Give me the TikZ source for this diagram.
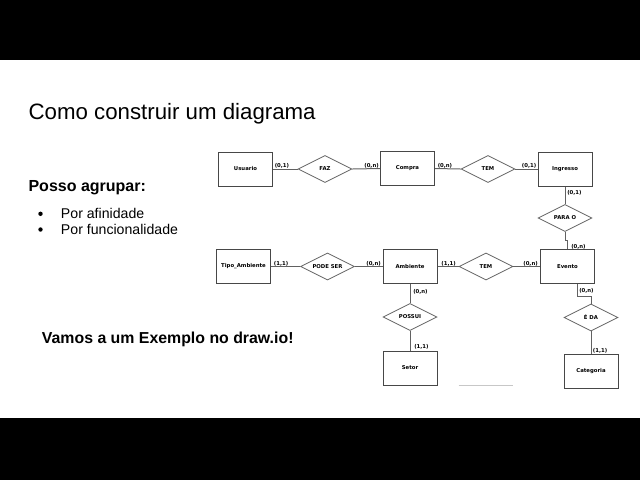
\documentclass[tikz,border=0pt]{standalone}
\usepackage{fontspec}
\setmainfont{Liberation Sans}
\newfontfamily\erfont{DejaVu Sans}
\usetikzlibrary{shapes.geometric}
\begin{document}
\begin{tikzpicture}[x=0.75pt,y=-0.75pt,
  erfnt/.style={font=\erfont\bfseries\fontsize{4}{5}\selectfont},
  ent/.style={draw=black!72, line width=0.75pt, minimum width=40.5pt, minimum height=25.5pt, inner sep=0pt, erfnt},
  rel/.style={draw=black!62, line width=0.6pt, diamond, aspect=2, minimum width=40.5pt, minimum height=20.25pt, inner sep=0pt, erfnt},
  lbl/.style={inner sep=0pt, erfnt},
  conn/.style={draw=black!62, line width=0.75pt},
  slide/.style={inner sep=0pt, anchor=base west}]
\useasboundingbox (0,0) rectangle (640,480);
\fill[white] (0,0) rectangle (640,480);
\fill[black] (0,0) rectangle (640,60);
\fill[black] (0,418) rectangle (640,480);

% slide text
\node[slide, font=\fontsize{16.7}{20}\selectfont] (title) at (28.3,119.3) {Como construir um diagrama};
\node[slide, font=\bfseries\fontsize{12}{14}\selectfont] (grp) at (28.3,191) {Posso agrupar:};
\node[slide, font=\fontsize{10.6}{13}\selectfont] (b1) at (60.7,218.3) {Por afinidade};
\node[slide, font=\fontsize{10.6}{13}\selectfont] (b2) at (60.7,234) {Por funcionalidade};
\fill (40.5,213.8) circle (2.2);
\fill (40.5,229.5) circle (2.2);
\node[slide, font=\bfseries\fontsize{11.9}{14}\selectfont] (ex) at (41.7,343.3) {Vamos a um Exemplo no draw.io!};

% entities
\node[ent] (usu) at (245.5,169) {Usuario};
\node[ent] (com) at (407.5,168.5) {Compra};
\node[ent] (ing) at (565,169) {Ingresso};
\node[ent] (tip) at (243.5,266.5) {Tipo\_Ambiente};
\node[ent] (amb) at (410,266.5) {Ambiente};
\node[ent] (eve) at (567.5,266.5) {Evento};
\node[ent] (set) at (410,368) {Setor};
\node[ent] (cat) at (591,371) {Categoria};

% relationships
\node[rel] (faz) at (325,169) {FAZ};
\node[rel] (tem1) at (488,169) {TEM};
\node[rel] (para) at (565,218) {PARA O};
\node[rel] (pode) at (327.5,266.5) {PODE SER};
\node[rel] (tem2) at (486,266.5) {TEM};
\node[rel] (pos) at (410,317) {POSSUI};
\node[rel] (eda) at (591,317.5) {É DA};

% connectors
\draw[conn] (usu.east) -- (faz.west);
\draw[conn] (faz.east) -- (com.west);
\draw[conn] (com.east) -- (tem1.west);
\draw[conn] (tem1.east) -- (ing.west);
\draw[conn] (ing.south) -- (para.north);
\draw[conn] (para.south) -- ++(0,9) -| (eve.north);
\draw[conn] (tip.east) -- (pode.west);
\draw[conn] (pode.east) -- (amb.west);
\draw[conn] (amb.east) -- (tem2.west);
\draw[conn] (tem2.east) -- (eve.west);
\draw[conn] (amb.south) -- (pos.north);
\draw[conn] (pos.south) -- (set.north);
\coordinate (evs) at ([shift={(10,0)}]eve.south);
\draw[conn] (evs) -- ++(0,12) -| (eda.north);
\draw[conn] (eda.south) -- (cat.north);

% cardinality labels
\node[lbl, anchor=west] at ([shift={(1.5,-3)}]usu.east) {(0,1)};
\node[lbl, anchor=east] at ([shift={(-1,-3)}]com.west) {(0,n)};
\node[lbl, anchor=west] at ([shift={(2.5,-3)}]com.east) {(0,n)};
\node[lbl, anchor=east] at ([shift={(-1,-3)}]ing.west) {(0,1)};
\node[lbl, anchor=west] at ([shift={(2,6.7)}]ing.south) {(0,1)};
\node[lbl, anchor=west] at ([shift={(3.5,-2.5)}]eve.north) {(0,n)};
\node[lbl, anchor=west] at ([shift={(2.7,-2.5)}]tip.east) {(1,1)};
\node[lbl, anchor=east] at ([shift={(-1.5,-2.5)}]amb.west) {(0,n)};
\node[lbl, anchor=west] at ([shift={(3.7,-2.5)}]amb.east) {(1,1)};
\node[lbl, anchor=east] at ([shift={(-2,-2.5)}]eve.west) {(0,n)};
\node[lbl, anchor=west] at ([shift={(3,7.5)}]amb.south) {(0,n)};
\node[lbl, anchor=west] at ([shift={(4,-3.5)}]set.north) {(1,1)};
\node[lbl, anchor=west] at ([shift={(11.5,7)}]eve.south) {(0,n)};
\node[lbl, anchor=west] at ([shift={(1.7,-3)}]cat.north) {(1,1)};

% faint line
\draw[black!22, line width=0.7pt] (458.7,385.3) -- (512.7,385.3);
\end{tikzpicture}
\end{document}
